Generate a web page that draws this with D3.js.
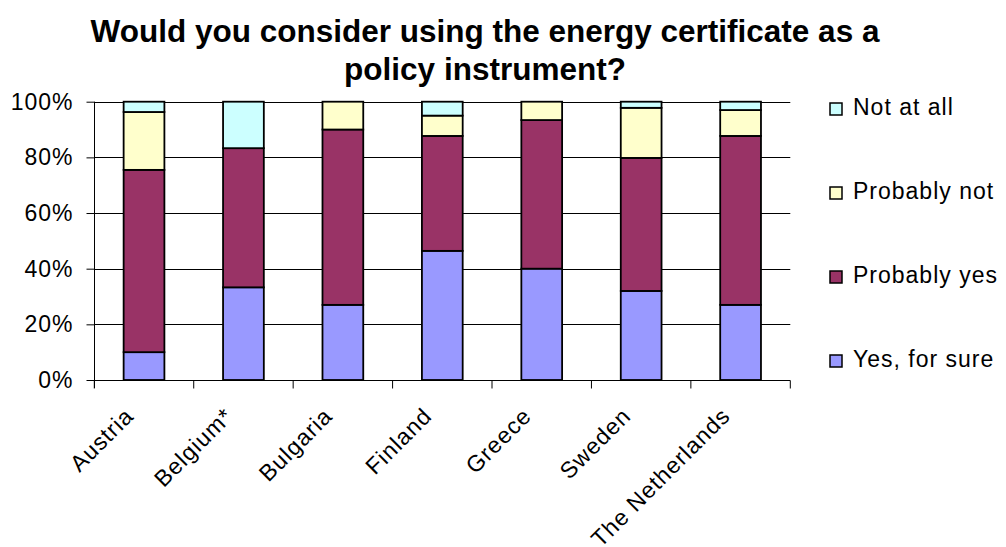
<!DOCTYPE html>
<html><head><meta charset="utf-8">
<script src="https://cdn.jsdelivr.net/npm/d3@7"></script>
<style>body{margin:0;background:#fff}svg{display:block;font-family:"Liberation Sans",Arial,sans-serif}</style>
</head><body>
<svg id="c" width="1006" height="547"></svg>
<script>
const categories = ["Austria","Belgium*","Bulgaria","Finland","Greece","Sweden","The Netherlands"];
const yesForSure  = [10, 33.3, 27, 46.4, 40, 32, 27];
const probablyYes = [65.5, 50, 63, 41.3, 53.4, 47.8, 60.7];
const probablyNot = [20.8, 0, 10, 7.3, 6.6, 18, 9.3];
const notAtAll    = [3.7, 16.7, 0, 5, 0, 2.2, 3];
const seriesNames = ["Yes, for sure","Probably yes","Probably not","Not at all"];
const seriesColors = ["#9999FF","#993366","#FFFFCC","#CCFFFF"];
const yTicks = [0, 20, 40, 60, 80, 100];
const titleLines = ["Would you consider using the energy certificate as a","policy instrument?"];

const svg = d3.select("#c");
const L = 94.3, R = 790.3, T = 101.7, B = 380;
const x = d3.scaleBand().domain(categories).range([L, R]).paddingInner(0.59).paddingOuter(0.295);
const y = d3.scaleLinear().domain([0, 100]).range([B, T]);

const rows = categories.map((c, i) => ({cat: c, s0: yesForSure[i], s1: probablyYes[i], s2: probablyNot[i], s3: notAtAll[i]}));
const stack = d3.stack().keys(["s0","s1","s2","s3"])(rows);

// gridlines
svg.append("g").selectAll("line").data(yTicks.filter(d => d > 0)).join("line")
  .attr("x1", L).attr("x2", R).attr("y1", d => Math.round(y(d)) + 0.5).attr("y2", d => Math.round(y(d)) + 0.5)
  .attr("stroke", "#000").attr("stroke-width", 1);

// bars
stack.forEach((layer, k) => {
  svg.append("g").selectAll("rect").data(layer).join("rect")
    .attr("x", d => x(d.data.cat)).attr("width", x.bandwidth())
    .attr("y", d => y(d[1])).attr("height", d => y(d[0]) - y(d[1]))
    .attr("fill", seriesColors[k]).attr("stroke", "#000").attr("stroke-width", 1.8);
});

// y axis
const yAxis = d3.axisLeft(y).tickValues(yTicks).tickFormat(d => d + "%").tickSize(8).tickPadding(13);
const gy = svg.append("g").attr("transform", `translate(${Math.round(L)+0.5},0)`).call(yAxis);
gy.select(".domain").attr("d", `M0,${T}V${B+8}`).attr("stroke", "#000");
gy.selectAll(".tick line").attr("stroke", "#000");
gy.selectAll("text").attr("font-size", 23).attr("letter-spacing", 1).attr("font-family", "Liberation Sans, Arial, sans-serif").attr("fill", "#000");

// x axis
const xb = d3.scaleLinear().domain([0, categories.length]).range([L, R]);
const gx = svg.append("g").attr("transform", `translate(0,${Math.round(B)+0.5})`);
gx.append("line").attr("x1", L).attr("x2", R).attr("stroke", "#000");
gx.selectAll("line.t").data(d3.range(categories.length + 1)).join("line").attr("class","t")
  .attr("x1", d => xb(d)).attr("x2", d => xb(d)).attr("y1", 0).attr("y2", 8).attr("stroke", "#000");
gx.selectAll("text").data(categories).join("text")
  .attr("transform", d => `translate(${x(d) + x.bandwidth()/2 - 9},${37}) rotate(-45)`)
  .attr("text-anchor", "end").attr("font-size", 23).attr("letter-spacing", 1).attr("fill", "#000").text(d => d);

// title
svg.append("g").selectAll("text").data(titleLines).join("text")
  .attr("x", 485).attr("y", (d, i) => 42 + i * 38).attr("text-anchor", "middle")
  .attr("font-size", 31.5).attr("font-weight", "bold").attr("fill", "#000").text(d => d);

// legend
const legendOrder = [3, 2, 1, 0];
const lg = svg.append("g").selectAll("g").data(legendOrder).join("g")
  .attr("transform", (d, i) => `translate(830,${115 + i * 84})`);
lg.append("rect").attr("x", 0).attr("y", -12).attr("width", 12).attr("height", 12)
  .attr("fill", d => seriesColors[d]).attr("stroke", "#000").attr("stroke-width", 1.5);
lg.append("text").attr("x", 23).attr("y", 0).attr("font-size", 23).attr("letter-spacing", 1).attr("fill", "#000").text(d => seriesNames[d]);
</script>
</body></html>
